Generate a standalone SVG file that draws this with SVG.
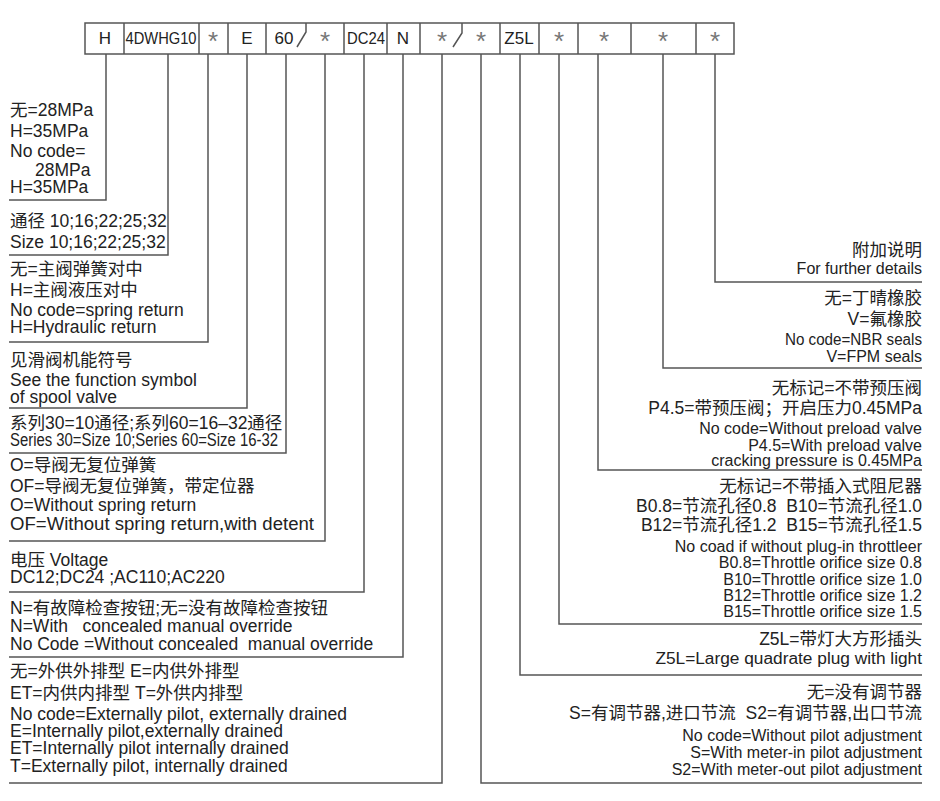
<svg xmlns="http://www.w3.org/2000/svg" width="940" height="801" viewBox="0 0 940 801">
<style>
text { font-family: "Liberation Sans", "Noto Sans CJK SC", sans-serif; fill: #222; }
.l { font-size: 17.5px; }
.r { font-size: 16px; text-anchor: end; }
.rc { font-size: 17.5px; text-anchor: end; }
.b { font-size: 17px; text-anchor: middle; }
.a { font-size: 26px; text-anchor: middle; fill: #777; }
.ln { fill: none; stroke: #555; stroke-width: 1.5; }
.bx { fill: #fff; stroke: #555; stroke-width: 1.5; }
</style>
<rect width="940" height="801" fill="#fff"/>
<g id="code-box">
  <rect class="bx" x="85" y="23" width="649" height="31"/>
  <path class="ln" d="M124,23V54M199,23V54M228,23V54M266,23V54M344,23V54M387,23V54M420,23V54M500,23V54M539,23V54M578,23V54M631,23V54M696,23V54"/>
  <path class="ln" d="M306,23V32L297,47M462,23V33L453,47"/>
  <text class="b" x="105" y="44">H</text>
  <text class="b" x="161" y="44" textLength="71" lengthAdjust="spacingAndGlyphs">4DWHG10</text>
  <text class="a" x="213" y="50">*</text>
  <text class="b" x="247" y="44">E</text>
  <text class="b" x="284" y="44">60</text>
  <text class="a" x="325" y="50">*</text>
  <text class="b" x="366" y="44" textLength="38" lengthAdjust="spacingAndGlyphs">DC24</text>
  <text class="b" x="403" y="44">N</text>
  <text class="a" x="442" y="50">*</text>
  <text class="a" x="481" y="50">*</text>
  <text class="b" x="519" y="44">Z5L</text>
  <text class="a" x="559" y="50">*</text>
  <text class="a" x="604" y="50">*</text>
  <text class="a" x="663" y="50">*</text>
  <text class="a" x="715" y="50">*</text>
</g>
<g id="connectors">
  <path class="ln" d="M106,54V200H9"/>
  <path class="ln" d="M168,54V255H9"/>
  <path class="ln" d="M208,54V342H9"/>
  <path class="ln" d="M247,54V408H9"/>
  <path class="ln" d="M286,54V453H9"/>
  <path class="ln" d="M325,54V541H9"/>
  <path class="ln" d="M364,54V592H9"/>
  <path class="ln" d="M403,54V657H9"/>
  <path class="ln" d="M442,54V783H9"/>
  <path class="ln" d="M715,54V282H922"/>
  <path class="ln" d="M663,54V368H922"/>
  <path class="ln" d="M598,54V470H922"/>
  <path class="ln" d="M559,54V624H922"/>
  <path class="ln" d="M520,54V675H922"/>
  <path class="ln" d="M481,54V783H922"/>
</g>
<g id="pressure">
  <text class="l" x="10" y="116">无=28MPa</text>
  <text class="l" x="10" y="137">H=35MPa</text>
  <text class="l" x="10" y="157">No code=</text>
  <text class="l" x="35" y="176">28MPa</text>
  <text class="l" x="10" y="193">H=35MPa</text>
</g>
<g id="size">
  <text class="l" x="10" y="227">通径 10;16;22;25;32</text>
  <text class="l" x="10" y="248">Size 10;16;22;25;32</text>
</g>
<g id="return">
  <text class="l" x="10" y="275">无=主阀弹簧对中</text>
  <text class="l" x="10" y="296">H=主阀液压对中</text>
  <text class="l" x="10" y="316">No code=spring return</text>
  <text class="l" x="10" y="333">H=Hydraulic return</text>
</g>
<g id="spool">
  <text class="l" x="10" y="366">见滑阀机能符号</text>
  <text class="l" x="10" y="386">See the function symbol</text>
  <text class="l" x="10" y="403">of spool valve</text>
</g>
<g id="series">
  <text class="l" x="10" y="429">系列30=10通径;系列60=16–32通径</text>
  <text class="l" x="10" y="446" textLength="268" lengthAdjust="spacingAndGlyphs">Series 30=Size 10;Series 60=Size 16-32</text>
</g>
<g id="pilot-spring">
  <text class="l" x="10" y="471">O=导阀无复位弹簧</text>
  <text class="l" x="10" y="492">OF=导阀无复位弹簧，带定位器</text>
  <text class="l" x="10" y="511">O=Without spring return</text>
  <text class="l" x="10" y="530" textLength="304" lengthAdjust="spacingAndGlyphs">OF=Without spring return,with detent</text>
</g>
<g id="voltage">
  <text class="l" x="10" y="566">电压 Voltage</text>
  <text class="l" x="10" y="583">DC12;DC24 ;AC110;AC220</text>
</g>
<g id="override">
  <text class="l" x="10" y="614">N=有故障检查按钮;无=没有故障检查按钮</text>
  <text class="l" x="10" y="632" xml:space="preserve">N=With   concealed manual override</text>
  <text class="l" x="10" y="650" xml:space="preserve">No Code =Without concealed  manual override</text>
</g>
<g id="pilot-drain">
  <text class="l" x="10" y="677">无=外供外排型 E=内供外排型</text>
  <text class="l" x="10" y="699">ET=内供内排型 T=外供内排型</text>
  <text class="l" x="10" y="720">No code=Externally pilot, externally drained</text>
  <text class="l" x="10" y="737">E=Internally pilot,externally drained</text>
  <text class="l" x="10" y="754">ET=Internally pilot internally drained</text>
  <text class="l" x="10" y="772">T=Externally pilot, internally drained</text>
</g>
<g id="details">
  <text class="rc" x="922" y="256">附加说明</text>
  <text class="r" x="922" y="274">For further details</text>
</g>
<g id="seals">
  <text class="rc" x="922" y="304">无=丁晴橡胶</text>
  <text class="rc" x="922" y="325">V=氟橡胶</text>
  <text class="r" x="922" y="345" textLength="137" lengthAdjust="spacingAndGlyphs">No code=NBR seals</text>
  <text class="r" x="922" y="362">V=FPM seals</text>
</g>
<g id="preload">
  <text class="rc" x="922" y="394">无标记=不带预压阀</text>
  <text class="rc" x="922" y="414">P4.5=带预压阀；开启压力0.45MPa</text>
  <text class="r" x="922" y="434">No code=Without preload valve</text>
  <text class="r" x="922" y="451">P4.5=With preload valve</text>
  <text class="r" x="922" y="466">cracking pressure is 0.45MPa</text>
</g>
<g id="throttle">
  <text class="rc" x="922" y="492">无标记=不带插入式阻尼器</text>
  <text class="rc" x="922" y="512" xml:space="preserve">B0.8=节流孔径0.8  B10=节流孔径1.0</text>
  <text class="rc" x="922" y="531" xml:space="preserve">B12=节流孔径1.2  B15=节流孔径1.5</text>
  <text class="r" x="922" y="552">No coad if without plug-in throttleer</text>
  <text class="r" x="922" y="568">B0.8=Throttle orifice size 0.8</text>
  <text class="r" x="922" y="585">B10=Throttle orifice size 1.0</text>
  <text class="r" x="922" y="601">B12=Throttle orifice size 1.2</text>
  <text class="r" x="922" y="617">B15=Throttle orifice size 1.5</text>
</g>
<g id="plug">
  <text class="rc" x="922" y="645">Z5L=带灯大方形插头</text>
  <text class="rc" x="922" y="664" style="font-size:17.3px">Z5L=Large quadrate plug with light</text>
</g>
<g id="adjust">
  <text class="rc" x="922" y="698">无=没有调节器</text>
  <text class="rc" x="922" y="719" xml:space="preserve">S=有调节器,进口节流  S2=有调节器,出口节流</text>
  <text class="r" x="922" y="741">No code=Without pilot adjustment</text>
  <text class="r" x="922" y="758">S=With meter-in pilot adjustment</text>
  <text class="r" x="922" y="775">S2=With meter-out pilot adjustment</text>
</g>
</svg>
